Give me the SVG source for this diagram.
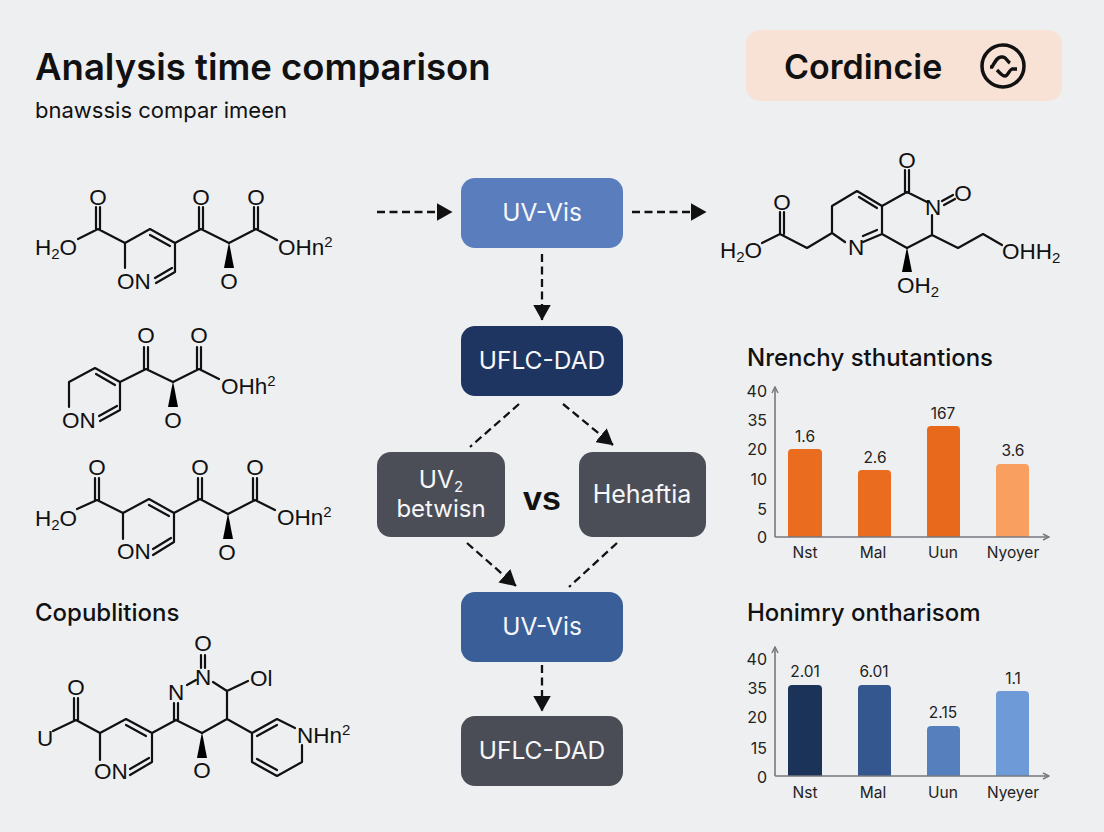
<svg xmlns="http://www.w3.org/2000/svg" width="1104" height="832" viewBox="0 0 1104 832">
<style>
text{font-family:Inter,"Liberation Sans",Arial,sans-serif;fill:#111}
.title{font-size:36.5px;font-weight:600}
.sub{font-size:22px}
.head{font-size:24px;font-weight:450}
.bd{fill:none;stroke:#111;stroke-width:2.2;stroke-linecap:round;stroke-linejoin:round}
.wd{fill:#000}
.at{font-family:"Liberation Sans",Arial,sans-serif;font-size:22.5px}
.m{text-anchor:middle}
.s{font-size:15px}
.lb{fill:#f6f7fa;font-size:24.5px;text-anchor:middle;font-weight:400}
.cn{fill:none;stroke:#111;stroke-width:2.3;stroke-dasharray:8 4.5}
.ax{fill:none;stroke:#77797e;stroke-width:1.6}
.tk{font-size:16px;text-anchor:end;fill:#222}
.vl{font-size:15.5px;text-anchor:middle;fill:#222}
.xl{font-size:15.5px;text-anchor:middle;fill:#222}
</style>
<defs>
<marker id="ah2" viewBox="0 0 16 18" refX="15.5" refY="9" markerWidth="16" markerHeight="18" markerUnits="userSpaceOnUse" orient="auto"><path d="M0 0L16 9L0 18Z" fill="#111"/></marker>
<marker id="ta" viewBox="0 0 8 8" refX="7" refY="4" markerWidth="8" markerHeight="8" markerUnits="userSpaceOnUse" orient="auto"><path d="M1 1L7 4L1 7" fill="none" stroke="#77797e" stroke-width="1.5"/></marker>
</defs>
<rect width="1104" height="832" fill="#eeeff1"/>
<g id="header">
<text class="title" x="35" y="80">Analysis time comparison</text>
<text class="sub" x="35" y="118">bnawssis compar imeen</text>
</g>
<g id="badge">
<rect x="746" y="30" width="316" height="71" rx="14" fill="#f8e1d5"/>
<text x="784" y="79" style="font-size:34px;font-weight:600">Cordincie</text>
<circle cx="1003" cy="66" r="21" fill="none" stroke="#111" stroke-width="3.5"/>
<path d="M990 67H992C995 62 997 57 1001 57H1003C1006 57 1007 61 1010 63M997 70C1000 73 1002 76 1005 76C1008 76 1009 70 1012 69H1017" fill="none" stroke="#111" stroke-width="3.4"/>
</g>
<g id="molecule-1">
<path class="bd" d="M100 207V229M96 207V229M78 239L98 229L125 243L150 229L175 243V272L156 283M150 235L170 246M172 268L155 278M125 243V268M175 243L201 229L229 243L256 229L277 240M203 207V229M199 207V229M258 207V229M254 207V229"/>
<path class="wd" d="M229 242L224 268H234Z"/>
<text class="at m" x="98" y="205">O</text><text class="at m" x="201" y="205">O</text><text class="at m" x="256" y="205">O</text>
<text class="at" x="35" y="255">H<tspan class="s" dy="4">2</tspan><tspan dy="-4">O</tspan></text>
<text class="at" x="117" y="289">ON</text><text class="at m" x="229" y="289">O</text>
<text class="at" x="278" y="255">OHn<tspan class="s" dy="-8">2</tspan></text>
</g>
<g id="molecule-2">
<path class="bd" d="M69 407V382L95 368L120 382V410L100 421M96 374L115 385M117 406L99 416M120 382L146 369L173 382L199 369L219 379M148 347V369M144 347V369M201 347V369M197 347V369"/>
<path class="wd" d="M173 381L168 407H178Z"/>
<text class="at m" x="146" y="343">O</text><text class="at m" x="199" y="343">O</text>
<text class="at" x="62" y="428">ON</text><text class="at m" x="173" y="428">O</text>
<text class="at" x="221" y="394">OHh<tspan class="s" dy="-8">2</tspan></text>
</g>
<g id="molecule-3">
<path class="bd" d="M99 478V500M95 478V500M77 509L97 500L123 513L149 499L174 513V542L153 555M149 505L169 516M171 538L153 549M123 513V539M174 513L200 499L228 514L255 500L275 510M202 478V499M198 478V499M257 478V500M253 478V500"/>
<path class="wd" d="M228 513L223 539H233Z"/>
<text class="at m" x="97" y="475">O</text><text class="at m" x="200" y="475">O</text><text class="at m" x="255" y="475">O</text>
<text class="at" x="35" y="526">H<tspan class="s" dy="4">2</tspan><tspan dy="-4">O</tspan></text>
<text class="at" x="117" y="559">ON</text><text class="at m" x="227" y="560">O</text>
<text class="at" x="277" y="525">OHn<tspan class="s" dy="-8">2</tspan></text>
</g>
<text class="head" x="35" y="621" id="copublitions">Copublitions</text>
<g id="molecule-4">
<path class="bd" d="M78 698V720M74 698V720M53 731L76 720L100 733L126 719L152 733V762L130 775M126 725L146 736M149 758L130 769M100 733V760M152 733L176 720M178 703V720M174 703V720M187 685L196 680M201 655V668M205 655V668M213 682L227 691L248 681M227 691V719L202 733L176 720M227 719L252 733L277 719L295 728M302 745V762L277 776L252 762V733M257 736L277 725M257 759L277 770"/>
<path class="wd" d="M202 732L197 758H207Z"/>
<text class="at m" x="203" y="651">O</text><text class="at m" x="176" y="700">N</text><text class="at m" x="203" y="685">N</text>
<text class="at" x="250" y="686">Ol</text><text class="at m" x="76" y="695">O</text>
<text class="at" x="37" y="746">U</text><text class="at" x="94" y="779">ON</text><text class="at m" x="202" y="778">O</text>
<text class="at" x="297" y="743">NHn<tspan class="s" dy="-8">2</tspan></text>
</g>
<g id="molecule-5">
<path class="bd" d="M905 170V192M909 170V192M882 206L907 192L927 202M942 201L953 195M944 205L955 199M932 215V235L958 248L983 234L1002 245M932 235L907 248L882 234V206L857 191L832 206V233L845 242M859 197L877 208M863 242L882 234M863 236L877 230M832 233L807 248L780 234L762 243M784 212V234M780 212V234"/>
<path class="wd" d="M907 247L902 272H912Z"/>
<text class="at m" x="907" y="168">O</text><text class="at m" x="933" y="215">N</text><text class="at m" x="963" y="201">O</text><text class="at m" x="782" y="210">O</text>
<text class="at" x="720" y="258">H<tspan class="s" dy="4">2</tspan><tspan dy="-4">O</tspan></text>
<text class="at m" x="856" y="255">N</text>
<text class="at" x="1002" y="259">OHH<tspan class="s" dy="4">2</tspan></text>
<text class="at" x="897" y="293">OH<tspan class="s" dy="4">2</tspan></text>
</g>
<g id="connectors">
<path class="cn" d="M377 212H452" marker-end="url(#ah2)"/>
<path class="cn" d="M632 212H706" marker-end="url(#ah2)"/>
<path class="cn" d="M542 254V320" marker-end="url(#ah2)"/>
<path class="cn" d="M519 404L470 447"/>
<path class="cn" d="M563 404L613 445" marker-end="url(#ah2)"/>
<path class="cn" d="M467 543L516 586" marker-end="url(#ah2)"/>
<path class="cn" d="M617 543L569 587"/>
<path class="cn" d="M542 665V711" marker-end="url(#ah2)"/>
</g>
<g id="node-uvvis-1"><rect x="461" y="178" width="162" height="70" rx="14" fill="#5a7dbd"/><text class="lb" x="542" y="221">UV-Vis</text></g>
<g id="node-uflc-1"><rect x="461" y="326" width="162" height="70" rx="14" fill="#1e3561"/><text class="lb" x="542" y="369">UFLC-DAD</text></g>
<g id="node-uv2"><rect x="377" y="452" width="128" height="85" rx="14" fill="#4b4e57"/><text class="lb" x="441" y="488">UV<tspan class="s" dy="4">2</tspan></text><text class="lb" style="font-size:24px" x="441" y="517">betwisn</text></g>
<g id="node-hehaftia"><rect x="579" y="452" width="127" height="85" rx="14" fill="#4b4e57"/><text class="lb" style="font-size:25px" x="642" y="503">Hehaftia</text></g>
<text id="vs" x="542" y="510" text-anchor="middle" style="font-family:'Liberation Sans',Arial,sans-serif;font-size:34px;font-weight:700">vs</text>
<g id="node-uvvis-2"><rect x="461" y="592" width="162" height="70" rx="14" fill="#3a5e98"/><text class="lb" x="542" y="635">UV-Vis</text></g>
<g id="node-uflc-2"><rect x="461" y="716" width="162" height="70" rx="14" fill="#4a4d55"/><text class="lb" x="542" y="759">UFLC-DAD</text></g>
<g id="chart-1">
<text class="head" x="747" y="366">Nrenchy sthutantions</text>
<path d="M788 453a4 4 0 0 1 4-4h26a4 4 0 0 1 4 4V537H788Z" fill="#ea6d1f"/>
<path d="M858 474a4 4 0 0 1 4-4h25a4 4 0 0 1 4 4V537H858Z" fill="#ea6d1f"/>
<path d="M927 430a4 4 0 0 1 4-4h25a4 4 0 0 1 4 4V537H927Z" fill="#e8691b"/>
<path d="M996 468a4 4 0 0 1 4-4h25a4 4 0 0 1 4 4V537H996Z" fill="#f9a061"/>
<path class="ax" d="M775 537V387" marker-end="url(#ta)"/><path class="ax" d="M775 537H1049" marker-end="url(#ta)"/>
<text class="tk" x="767" y="397">40</text><text class="tk" x="767" y="426">35</text><text class="tk" x="767" y="455">20</text><text class="tk" x="767" y="485">10</text><text class="tk" x="767" y="515">5</text><text class="tk" x="767" y="543">0</text>
<text class="vl" x="805" y="442">1.6</text><text class="vl" x="875" y="463">2.6</text><text class="vl" x="943" y="419">167</text><text class="vl" x="1013" y="456">3.6</text>
<text class="xl" x="805" y="558">Nst</text><text class="xl" x="873" y="558">Mal</text><text class="xl" x="943" y="558">Uun</text><text class="xl" x="1013" y="558">Nyoyer</text>
</g>
<g id="chart-2">
<text class="head" x="747" y="621">Honimry ontharisom</text>
<path d="M788 689a4 4 0 0 1 4-4h26a4 4 0 0 1 4 4V776H788Z" fill="#1c3359"/>
<path d="M858 689a4 4 0 0 1 4-4h25a4 4 0 0 1 4 4V776H858Z" fill="#34578f"/>
<path d="M927 730a4 4 0 0 1 4-4h25a4 4 0 0 1 4 4V776H927Z" fill="#5580bd"/>
<path d="M996 695a4 4 0 0 1 4-4h25a4 4 0 0 1 4 4V776H996Z" fill="#6f9ad8"/>
<path class="ax" d="M775 776V647" marker-end="url(#ta)"/><path class="ax" d="M775 776H1049" marker-end="url(#ta)"/>
<text class="tk" x="767" y="665">40</text><text class="tk" x="767" y="694">35</text><text class="tk" x="767" y="723">20</text><text class="tk" x="767" y="754">15</text><text class="tk" x="767" y="783">0</text>
<text class="vl" x="805" y="677">2.01</text><text class="vl" x="874" y="677">6.01</text><text class="vl" x="943" y="718">2.15</text><text class="vl" x="1013" y="684">1.1</text>
<text class="xl" x="805" y="798">Nst</text><text class="xl" x="873" y="798">Mal</text><text class="xl" x="943" y="798">Uun</text><text class="xl" x="1013" y="798">Nyeyer</text>
</g>
</svg>
